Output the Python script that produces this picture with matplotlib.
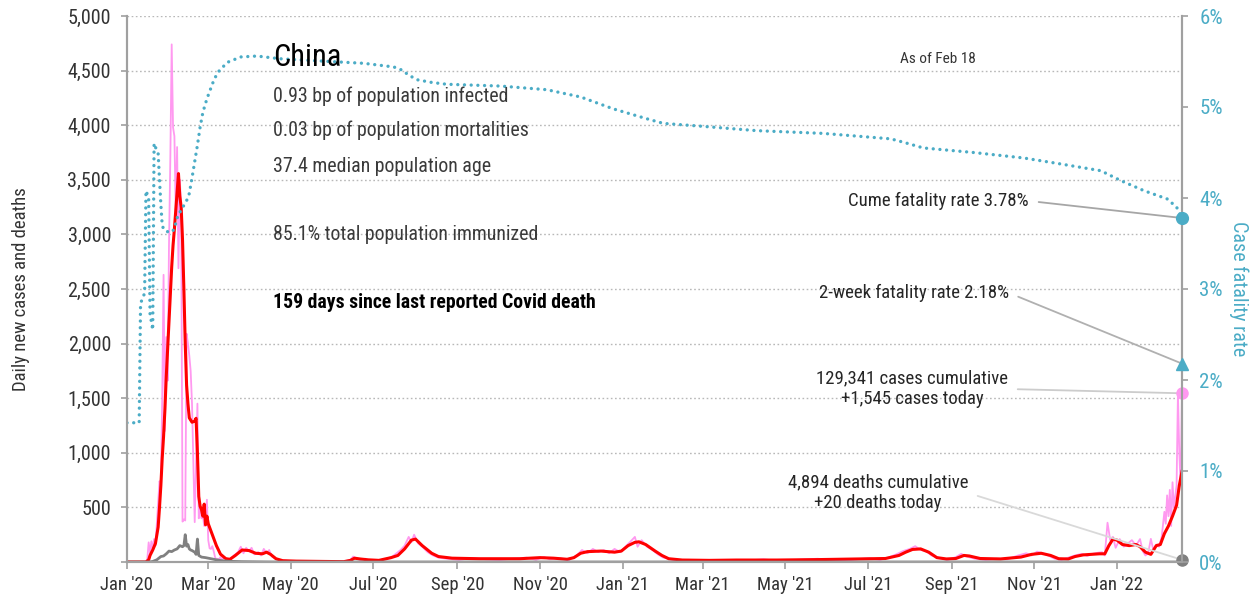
import numpy as np
import matplotlib
matplotlib.use('Agg')
import matplotlib.pyplot as plt
import matplotlib.dates as mdates
from matplotlib import font_manager as fm
from matplotlib.ticker import FuncFormatter, MultipleLocator

# ---- data (day offsets from Jan 1 2020) ----
start = np.datetime64('2020-01-01')
last_day = 779  # Feb 18 2022

case_days = [0, 14, 15, 16, 17, 18, 19, 20, 21, 22, 23, 24, 25, 26, 27, 28, 29, 30,
             31, 32, 33, 34, 35, 36, 37, 38, 39, 40, 41, 42, 43, 44, 45, 46, 47, 48,
             49, 50, 51, 52, 53, 54, 55, 56, 57, 58, 59, 60, 61, 62, 63, 64, 65, 66,
             67, 68, 69, 70,
             72, 76, 79, 82, 84, 86, 88, 90, 92, 94, 97, 99, 101, 103, 105, 107, 110,
             114, 120, 130, 140, 150, 160, 165, 167, 169, 172, 176, 180, 186, 192, 196,
             199, 202, 205, 208, 210, 212, 215, 218, 222, 226, 230, 236, 245, 255, 265,
             275, 285, 295, 302, 308, 312, 320, 326, 332, 336, 340, 344, 348, 352, 356,
             360, 364, 368, 372, 375, 377, 380, 384, 388, 392, 396, 400, 405, 415, 425,
             440, 455, 470, 480, 495, 510, 520, 535, 548, 556, 562, 568, 573, 578, 582,
             586, 590, 594, 600, 606, 612, 616, 620, 626, 634, 642, 650, 658, 664, 668,
             672, 676, 680, 685, 690, 695, 700, 705, 709, 713, 717, 720, 722, 724, 726,
             728, 730, 733, 736, 739, 742, 745, 748, 750, 752, 754, 756, 758, 760, 762,
             764, 766, 767, 768, 769, 770, 771, 772, 773, 774, 775, 776, 777, 778, 779]
cases_daily = [0, 0, 30, 180, 80, 190, 120, 210, 150, 350, 560, 740, 700, 1500, 2630,
               1200, 2060, 1660, 2900, 3700, 4740, 3980, 3900, 3200, 3800, 2690, 3500,
               3250, 370, 390, 380, 2090, 2000, 1890, 1750, 1450, 890, 365, 890, 1450,
               400, 520, 400, 430, 330, 430, 570, 200, 125, 120, 145, 100, 45, 20, 30,
               25, 45, 20,
               40, 20, 60, 90, 140, 80, 130, 100, 130, 70, 90, 60, 120, 80, 110, 50, 30,
               15, 10, 5, 8, 3, 5, 20, 50, 35, 20, 30, 10, 15, 30, 50,
               80, 110, 150, 230, 180, 250, 170, 140, 90, 60, 40, 30, 20, 35, 25,
               20, 30, 40, 20, 45, 25, 35, 15, 60, 110, 80, 120, 90, 110, 80,
               120, 90, 140, 190, 230, 140, 200, 140, 110, 70, 40, 30, 15, 20, 8,
               15, 10, 25, 10, 20, 30, 15, 20, 35, 20, 40, 70, 100, 120, 145,
               110, 100, 60, 35, 20, 45, 75, 50, 30, 20, 30, 25, 60, 80, 60,
               95, 80, 60, 30, 20, 40, 60, 75, 55, 75, 85, 90, 60, 360, 200,
               230, 130, 210, 140, 170, 200, 150, 210, 100, 60, 80, 212, 100, 160, 140,
               230, 460, 350, 610, 420, 660, 330, 730, 500, 600, 700, 1550, 1000, 700, 1545]

avg_days = [0, 14, 16, 17, 19, 21, 23, 24, 25, 26, 27, 28, 29, 30, 31, 32, 33, 34, 35,
            36, 37, 38, 39, 40, 41, 42, 43, 44, 45, 46, 47, 48, 49, 50, 51, 52, 53, 54,
            55, 56, 57, 58, 59, 60, 63, 66, 69, 73, 76, 80, 85, 90, 95, 100, 103, 106,
            110, 115, 125, 150, 160, 165, 168, 172, 178, 186, 195, 200, 205, 210, 213,
            218, 225, 230, 240, 260, 290, 305, 315, 325, 330, 335, 340, 350, 360, 365,
            370, 375, 378, 383, 390, 395, 400, 410, 430, 450, 480, 510, 540, 560, 570,
            575, 580, 586, 592, 598, 605, 612, 618, 622, 630, 645, 660, 668, 675, 682,
            688, 695, 700, 706, 712, 718, 722, 725, 728, 731, 735, 740, 745, 748, 752,
            756, 760, 763, 766, 769, 772, 775, 777, 779]
cases_avg = [0, 0, 20, 60, 110, 170, 320, 500, 700, 950, 1150, 1400, 1700, 1950, 2200,
             2450, 2700, 2900, 3050, 3220, 3400, 3557, 3350, 3250, 2950, 2500, 2000, 1620,
             1450, 1320, 1300, 1280, 1285, 1290, 1316, 1000, 600, 510, 480, 420, 530, 340,
             420, 350, 250, 150, 72, 30, 25, 60, 110, 105, 80, 75, 90, 70,
             30, 12, 8, 5, 3, 15, 35, 28, 20, 15, 40, 60, 120, 200, 210,
             150, 80, 50, 35, 30, 30, 40, 35, 25, 40, 80, 95, 100, 90, 100,
             150, 180, 185, 160, 100, 60, 30, 18, 15, 18, 18, 22, 28, 32, 60,
             90, 115, 120, 90, 40, 28, 32, 60, 55, 32, 28, 45, 70, 80, 60,
             30, 28, 50, 65, 70, 75, 75, 150, 210, 200, 160, 150, 160, 140, 90,
             70, 150, 160, 260, 330, 420, 520, 700, 830]

death_days = [0, 16, 19, 22, 25, 27, 29, 31, 33, 35, 37, 39, 41, 42, 43, 44, 45, 46, 47,
              48, 50, 51, 52, 53, 55, 58, 62, 66, 70, 76, 85, 100, 110, 779]
deaths_daily = [0, 0, 5, 20, 50, 55, 75, 100, 95, 110, 120, 150, 140, 150, 250, 145, 160,
                120, 110, 105, 90, 70, 210, 60, 45, 40, 30, 20, 12, 6, 3, 1, 0, 0]

cfr_days = [0, 9, 10, 11, 12, 13, 14, 15, 16, 17, 18, 19, 20, 21, 22, 23, 24, 25, 26, 27,
            28, 30, 32, 34, 36, 38, 40, 42, 44, 46, 48, 50, 52, 54, 56, 59, 64, 67, 74,
            84, 96, 113, 150, 175, 197, 204, 207, 214, 225, 236, 276, 310, 335, 359, 384,
            396, 423, 465, 514, 564, 574, 588, 625, 662, 687, 719, 734, 751, 768, 775, 779]
cfr_pct = [1.53, 1.53, 2.84, 2.88, 2.92, 2.95, 4.08, 4.04, 4.00, 2.73, 2.64, 2.55, 4.60,
           4.56, 4.52, 4.49, 4.20, 3.93, 3.70, 3.66, 3.64, 3.63, 3.62, 3.64, 3.72, 3.83,
           3.86, 3.92, 3.97, 4.05, 4.22, 4.40, 4.58, 4.78, 4.94, 5.09, 5.29, 5.38, 5.49,
           5.55, 5.56, 5.53, 5.50, 5.48, 5.44, 5.40, 5.36, 5.30, 5.27, 5.25, 5.23, 5.19,
           5.11, 4.98, 4.87, 4.82, 4.79, 4.74, 4.71, 4.65, 4.61, 4.55, 4.50, 4.44, 4.38,
           4.30, 4.19, 4.08, 3.99, 3.90, 3.78]

cfr_now = 3.78
cfr_2wk = 2.18
cases_today = 1545
deaths_today = 20

stats = ['0.93 bp of population infected',
         '0.03 bp of population mortalities',
         '37.4 median population age',
         '85.1% total population immunized']

# ---- font: narrow sans if one is installed ----
def narrow_font():
    entries = fm.fontManager.ttflist
    names = {e.name for e in entries}
    for p in ['Roboto Condensed', 'Liberation Sans Narrow', 'DejaVu Sans Condensed',
              'Noto Sans Condensed', 'Open Sans Condensed']:
        if p in names:
            return p, 'normal', 1.0
    for base in ['Noto Sans', 'DejaVu Sans', 'Open Sans', 'Roboto']:
        for e in entries:
            if e.name == base and e.stretch in ('condensed', 'semi-condensed'):
                return base, e.stretch, 1.0
    return 'Liberation Sans', 'normal', 0.84

fam, stretch, k = narrow_font()
plt.rcParams['font.family'] = [fam, 'DejaVu Sans']
plt.rcParams['font.stretch'] = stretch

pink = '#ff99f0'
red = '#ff0000'
grey = '#808080'
teal = '#4bacc6'
axis_grey = '#a0a0a0'
txt = '#333333'

def dates(days):
    return start + np.array(days) * np.timedelta64(1, 'D')

end = start + np.timedelta64(last_day, 'D')

fig = plt.figure(figsize=(12.55, 6.02), dpi=100)
ax = fig.add_axes([127 / 1255, 40 / 602, 1055 / 1255, 546 / 602])
ax2 = ax.twinx()

ax.plot(dates(case_days), cases_daily, color=pink, lw=1.3, zorder=2)
ax.plot(dates(avg_days), cases_avg, color=red, lw=2.2, zorder=3)
ax.plot(dates(death_days), deaths_daily, color=grey, lw=2.0, zorder=4)
ax.plot([end], [cases_today], 'o', color=pink, ms=8, clip_on=False, zorder=6)
ax.plot([end], [deaths_today], 'o', color=grey, ms=8, clip_on=False, zorder=6)

ax2.plot(dates(cfr_days), cfr_pct, color=teal, lw=2.4, linestyle=(0, (0.01, 2.0)),
         dash_capstyle='round')
ax2.plot([end], [cfr_now], 'o', color=teal, ms=8.5, clip_on=False, zorder=6)
ax2.plot([end], [cfr_2wk], '^', color=teal, ms=9, clip_on=False, zorder=6)

ax.set_xlim(start, end)
ax.set_ylim(0, 5000)
ax2.set_ylim(0, 6)

ax.xaxis.set_major_locator(mdates.MonthLocator(bymonth=[1, 3, 5, 7, 9, 11]))
ax.xaxis.set_major_formatter(mdates.DateFormatter("%b '%y"))
ax.yaxis.set_major_locator(MultipleLocator(500))
ax.yaxis.set_major_formatter(FuncFormatter(lambda v, p: '' if v == 0 else f'{v:,.0f}'))
ax2.yaxis.set_major_locator(MultipleLocator(1))
ax2.yaxis.set_major_formatter(FuncFormatter(lambda v, p: f'{v:.0f}%'))

ax.grid(axis='y', color='#b8b8b8', lw=1, linestyle=(0, (1.2, 1.8)))
ax.set_axisbelow(True)

for a in (ax, ax2):
    a.spines['top'].set_visible(False)
    for s in ('left', 'right', 'bottom'):
        a.spines[s].set_color(axis_grey)
        a.spines[s].set_linewidth(1.5)
ax.tick_params(axis='y', colors=axis_grey, labelcolor=txt, length=4.5, width=1.2,
               pad=7, labelsize=14.5 * k)
ax.tick_params(axis='x', colors=axis_grey, labelcolor=txt, length=5, width=1.2,
               pad=5, labelsize=13.5 * k)
ax2.tick_params(axis='y', colors=axis_grey, labelcolor=teal, length=4.5, width=1.2,
                pad=8, labelsize=15 * k)

ax.set_ylabel('Daily new cases and deaths', fontsize=13.5 * k, color=txt)
ax.yaxis.set_label_coords(-0.092, 0.5)
ax2.set_ylabel('Case fatality rate', fontsize=14.5 * k, color=teal, rotation=270,
               va='bottom')
ax2.yaxis.set_label_coords(1.045, 0.5)

# ---- text panel ----
def fy(y):
    return 1 - y / 602

fig.text(273 / 1255, fy(66), 'China', fontsize=22 * k, color='black', va='baseline')
for line, base in zip(stats, [101.5, 136, 171.5, 240]):
    fig.text(273 / 1255, fy(base), line, fontsize=14.3 * k, color='#3a3a3a',
             va='baseline')
fig.text(273 / 1255, fy(308), '159 days since last reported Covid death',
         fontsize=14.2 * k, color='black', weight='bold', va='baseline')
fig.text(938 / 1255, fy(59), 'As of Feb 18', fontsize=11 * k, color=txt,
         ha='center', va='center')

# ---- callouts ----
def callout(axis, text, yval, xy_txt, color, ha='right', va='baseline'):
    axis.annotate(text, xy=(end, yval), xytext=(xy_txt[0], 602 - xy_txt[1]),
                  textcoords='figure pixels', ha=ha, va=va, fontsize=13.5 * k,
                  color='#262626', multialignment='center', annotation_clip=False,
                  arrowprops=dict(arrowstyle='-', color=color, lw=1.3, shrinkA=5,
                                  shrinkB=0, relpos=(1, 0.5)))

callout(ax2, f'Cume fatality rate {cfr_now:.2f}%', cfr_now, (1029, 206), '#a6a6a6')
callout(ax2, f'2-week fatality rate {cfr_2wk:.2f}%', cfr_2wk, (1009, 298), '#b0b0b0')
callout(ax, '129,341 cases cumulative\n+1,545 cases today', cases_today, (912, 389),
        '#cccccc', ha='center', va='center')
callout(ax, '4,894 deaths cumulative\n+20 deaths today', deaths_today, (878, 493),
        '#d9d9d9', ha='center', va='center')

fig.savefig('out.png', dpi=100)
